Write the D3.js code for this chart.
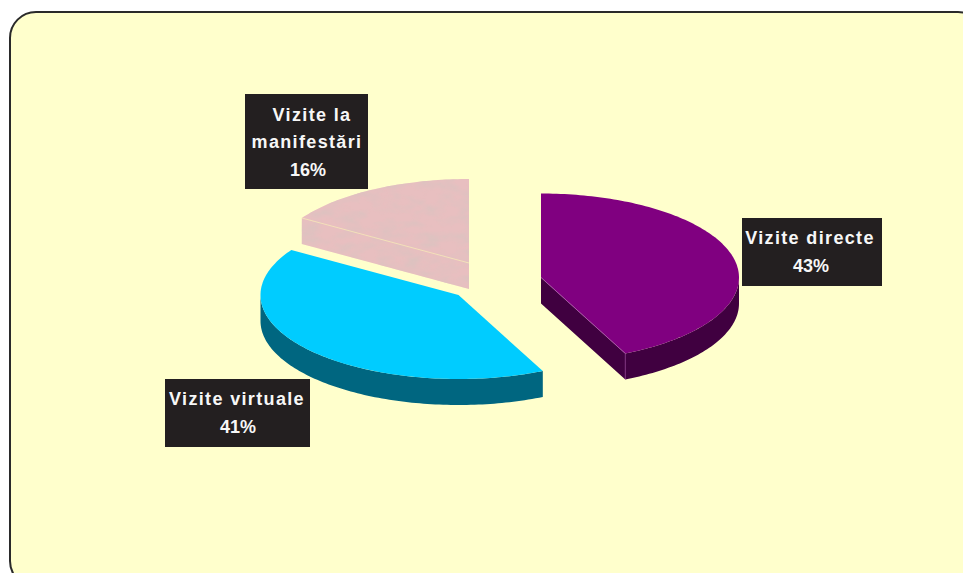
<!DOCTYPE html>
<html>
<head>
<meta charset="utf-8">
<script src="https://cdnjs.cloudflare.com/ajax/libs/d3/7.8.5/d3.min.js"></script>
<style>html,body{margin:0;padding:0;background:#fff;overflow:hidden}svg{display:block}</style>
</head>
<body>
<div id="chart"></div>
<script>
const categories = ["Vizite directe", "Vizite virtuale", "Vizite la manifestări"];
const values = [43, 41, 16];
const topColors = ["#800080", "#00CCFF", "#E8BFC0"];
const sideColors = ["#400040", "#006680", "#E8BFC0"];
const edgeColors = ["#B060B0", "#00CCFF", "#F6E9B8"];
const apexes = [[541, 277.5], [458.5, 295], [469, 263]];
const labelLines = [["Vizite directe", "43%"], ["Vizite virtuale", "41%"], ["Vizite la", "manifestări", "16%"]];
const labelBoxes = [
  {x: 742, y: 218, w: 140, h: 68, cx: [810, 811], base: [243.5, 271.5]},
  {x: 165, y: 379, w: 145, h: 68, cx: [237, 238], base: [404.5, 432.5]},
  {x: 245, y: 94, w: 123, h: 95, cx: [312, 307, 308], base: [120.5, 148, 175.5]}
];

const W = 963, H = 573, RX = 198, RY = 84, DEPTH = 26;
const svg = d3.select("#chart").append("svg").attr("width", W).attr("height", H);

const defs = svg.append("defs");
const f = defs.append("filter").attr("id", "marble").attr("x", 0).attr("y", 0).attr("width", 1).attr("height", 1);
f.append("feTurbulence").attr("type", "fractalNoise").attr("baseFrequency", "0.05 0.09").attr("numOctaves", 3).attr("seed", 7).attr("result", "n");
f.append("feColorMatrix").attr("in", "n").attr("type", "matrix")
  .attr("values", "0 0 0 0 0.72  0 0 0 0 0.54  0 0 0 0 0.53  2.2 0 0 0 -0.85").attr("result", "m");
f.append("feComposite").attr("in", "m").attr("in2", "SourceAlpha").attr("operator", "in").attr("result", "t");
const fm = f.append("feMerge");
fm.append("feMergeNode").attr("in", "SourceGraphic");
fm.append("feMergeNode").attr("in", "t");

svg.append("rect").attr("x", 10).attr("y", 12).attr("width", 974).attr("height", 575).attr("rx", 26)
  .attr("fill", "#FFFFCC").attr("stroke", "#2A2A2A").attr("stroke-width", 2);

const pie = d3.pie().sort(null).value(d => d)(values);
const px = d3.scaleLinear().domain([-1, 1]).range([-RX, RX]);
const py = d3.scaleLinear().domain([-1, 1]).range([-RY, RY]);
const line = d3.line();
const pt = (i, a, r = 1, dy = 0) => [apexes[i][0] + px(r * Math.sin(a)), apexes[i][1] + py(-r * Math.cos(a)) + dy];
const arcPts = (i, a0, a1, dy = 0) => {
  const n = Math.max(2, Math.ceil(Math.abs(a1 - a0) / 0.02));
  return d3.range(n + 1).map(k => pt(i, a0 + (a1 - a0) * k / n, 1, dy));
};

// draw back slices first
const order = [2, 0, 1];
order.forEach(i => {
  const s = pie[i], a0 = s.startAngle, a1 = s.endAngle;
  const g = svg.append("g").attr("class", "slice").attr("data-cat", categories[i]);
  const textured = i === 2;
  let wall = "";
  const v0 = Math.max(a0, Math.PI / 2), v1 = Math.min(a1, 3 * Math.PI / 2);
  if (v1 > v0) {
    wall += line(arcPts(i, v0, v1).concat(arcPts(i, v1, v0, DEPTH))) + "Z";
  }
  if (Math.sin(a1) > 1e-6) {
    wall += line([pt(i, a1, 0), pt(i, a1), pt(i, a1, 1, DEPTH), pt(i, a1, 0, DEPTH)]) + "Z";
  }
  if (Math.sin(a0) < -1e-6) {
    wall += line([pt(i, a0, 0), pt(i, a0), pt(i, a0, 1, DEPTH), pt(i, a0, 0, DEPTH)]) + "Z";
  }
  const face = [pt(i, 0, 0)].concat(arcPts(i, a0, a1));
  if (textured) {
    // wall and top share one textured surface
    g.append("path").attr("d", wall + line(face) + "Z").attr("fill", topColors[i]).attr("filter", "url(#marble)");
  } else {
    g.append("path").attr("d", wall).attr("fill", sideColors[i]);
    g.append("path").attr("d", line(face) + "Z").attr("fill", topColors[i]);
  }
  // thin light crease between the top and the cut face
  const cutAngle = Math.sin(a1) > 1e-6 ? a1 : (Math.sin(a0) < -1e-6 ? a0 : null);
  if (cutAngle !== null && i !== 1) {
    g.append("path").attr("d", line([pt(i, cutAngle, 0), pt(i, cutAngle)]))
      .attr("fill", "none").attr("stroke", edgeColors[i]).attr("stroke-width", 0.8);
    if (i === 0) {
      g.append("path").attr("d", line([pt(i, cutAngle), pt(i, cutAngle, 1, DEPTH)]))
        .attr("fill", "none").attr("stroke", edgeColors[i]).attr("stroke-width", 0.6);
    }
  }
});

labelBoxes.forEach((b, i) => {
  const g = svg.append("g").attr("class", "label");
  g.append("rect").attr("x", b.x).attr("y", b.y).attr("width", b.w).attr("height", b.h).attr("fill", "#231F20");
  labelLines[i].forEach((t, k) => {
    g.append("text").attr("x", b.cx[k]).attr("y", b.base[k]).attr("text-anchor", "middle")
      .attr("font-family", "'Liberation Sans', Arial, sans-serif").attr("font-weight", "bold")
      .attr("font-size", 18).attr("letter-spacing", t.endsWith("%") ? 0 : 1.35).attr("fill", "#F7F7F7").text(t);
  });
});
</script>
</body>
</html>
